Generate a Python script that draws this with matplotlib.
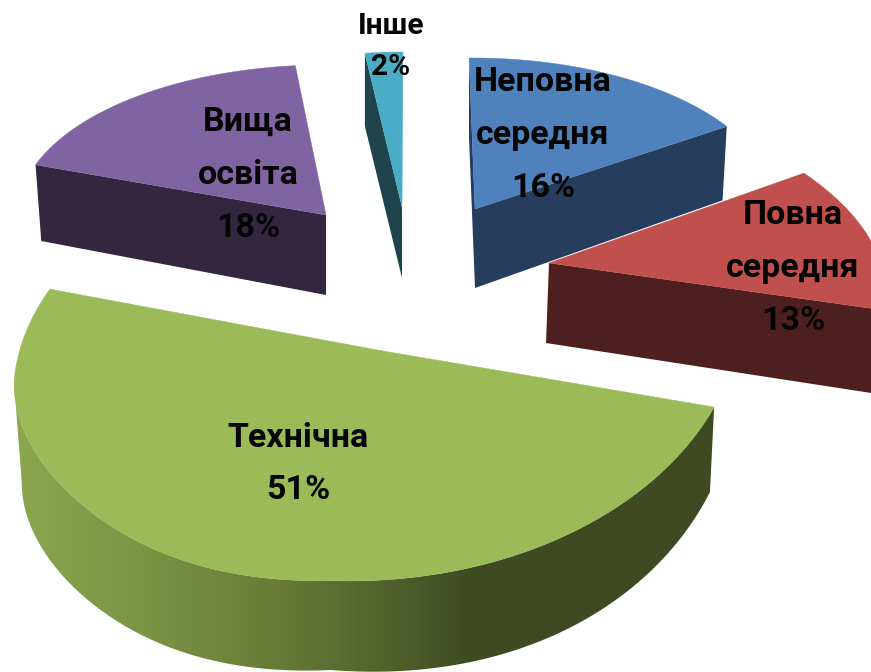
import numpy as np
import matplotlib
matplotlib.use("Agg")
import matplotlib.pyplot as plt
from matplotlib.colors import to_rgb
from matplotlib.patches import Polygon

# data
categories = ["Неповна\nсередня", "Повна\nсередня", "Технічна", "Вища\nосвіта", "Інше"]
values = [16, 13, 51, 18, 2]

# style
top_colors = ["#4f81bd", "#c0504d", "#9bbb59", "#8064a2", "#4bacc6"]
side_colors = ["#263d5d", "#4e1f1f", "#3f4a22", "#33273f", "#1f444e"]
grad_x = [20, 133, 233, 333, 416, 470]
grad_c = ["#8aa64e", "#7a9645", "#70843b", "#5c6e31", "#4b5a28", "#3f4a22"]

# layout: pixel placement of each exploded, tilted slice
# (apex, sin-axis, cos-axis, radial sag, front-right bulge, front-left pull)
top_geom = [
    ((475, 209), (302, -2), (-6, -151), 0, 0, 0),
    ((549, 263), (333, 4), (-49, -174), 0, 0, 0),
    ((377.4, 350), (360, -7.3), (48, -228), 2.6, 20, 35),
    ((326, 215), (308, 4), (8, -150), 0, 0, 0),
    ((402, 207), (304, 0), (1, -155), 0, 0, 0),
]
bot_geom = [
    ((475, 288), (297, -8), (-6, -151), 0, 0, 0),
    ((546, 343), (330, 8), (-49, -174), 0, 0, 0),
    ((379, 440), (354, -16.5), (48, -230), 0, 45, 35),
    ((326, 295), (302, 8), (8, -150), 0, 0, 0),
    ((402, 278), (304, 0), (1, -153), 0, 0, 0),
]
# which flat cut faces are seen (first edge, second edge) clockwise from 12 o'clock
faces_seen = [(True, True), (False, True), (False, False), (True, False), (True, False)]
label_xy = [(543, 135), (793, 268), (298, 464), (248, 175), (391, 46.5)]
label_size = [24.5, 24.5, 24.5, 24.5, 21.5]
label_gap = [1.83, 1.83, 1.83, 1.83, 1.62]

plt.rcParams["font.family"] = ["Roboto", "DejaVu Sans"]

fig = plt.figure(figsize=(8.71, 6.72), dpi=100, facecolor="white")
ax = fig.add_axes([0, 0, 1, 1])
wedges, _ = ax.pie(values, startangle=90, counterclock=False, radius=1, center=(0, 0))


def place(geom, u, v):
    (px, py), (a1, a2), (b1, b2), sag, bulge, pull = geom
    x = px + a1 * u + b1 * v
    front = np.clip(-v, 0, None)
    y = (py + a2 * u + b2 * v + sag * (u ** 2 + v ** 2)
         + bulge * np.clip(u, 0, None) * front
         - pull * np.clip(-u, 0, None) ** 3 * front)
    return np.column_stack([x, y])


def rim(geom, theta):
    return place(geom, np.sin(theta), np.cos(theta))


for i, w in enumerate(wedges):
    base = 10 * (i + 1)
    t0, t1 = sorted((np.radians(90 - w.theta1), np.radians(90 - w.theta2)))
    top, bot = top_geom[i], bot_geom[i]
    th = np.linspace(t0, t1, 361)
    # flat cut faces
    for t, seen in zip((t0, t1), faces_seen[i]):
        if seen:
            a = rim(top, np.array([t]))[0]
            b = rim(bot, np.array([t]))[0]
            ax.add_patch(Polygon([top[0], a, b, bot[0]], closed=True, fc=side_colors[i],
                                 ec="none", zorder=base))
    # curved front side of the big slice, shaded left to right
    if i == 2:
        pt, pb = rim(top, th), rim(bot, th)
        it, ib = np.argmin(pt[:, 0]), np.argmin(pb[:, 0])
        outline = np.vstack([pt[:it + 1], pb[:ib + 1][::-1]])
        clip = Polygon(outline, closed=True, fc="none", ec="none", transform=ax.transData)
        ax.add_patch(clip)
        xs = np.arange(0, 872)
        rgb = np.array([to_rgb(c) for c in grad_c])
        ramp = np.stack([np.interp(xs, grad_x, rgb[:, j]) for j in range(3)], axis=-1)[None, :, :]
        im = ax.imshow(ramp, extent=(0, 871, 672, 0), aspect="auto", zorder=base + 1,
                       interpolation="bilinear")
        im.set_clip_path(clip)
    # top face follows the pie wedge's own angles, mapped into place
    w.set_visible(False)
    ax.add_patch(Polygon(np.vstack([[top[0]], rim(top, th)]), closed=True, fc=top_colors[i],
                         ec=top_colors[i], lw=0.3, zorder=base + 2))

ax.set_aspect("auto")
ax.set_xlim(0, 871)
ax.set_ylim(672, 0)
ax.axis("off")

for cat, val, (x, y), fs, gap in zip(categories, values, label_xy, label_size, label_gap):
    ax.text(x, y, f"{cat}\n{val}%", ha="center", va="center", fontsize=fs, fontweight="bold",
            color="#050505", linespacing=gap, zorder=100, multialignment="center")

fig.savefig("out.png", dpi=100)
